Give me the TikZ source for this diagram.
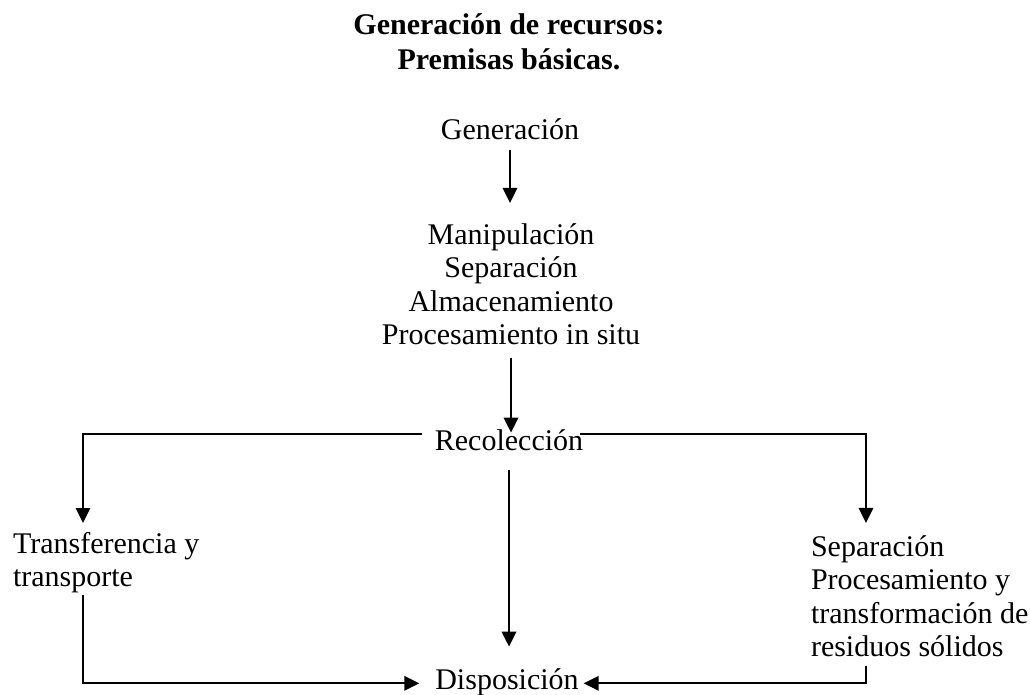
\documentclass[tikz,border=0pt]{standalone}
\usepackage{fontspec}
\setmainfont{Liberation Serif}
\usetikzlibrary{arrows.meta}
\tikzset{
  txt/.style={inner sep=0pt, outer sep=0pt, font=\fontsize{30}{33.5}\selectfont},
  ttl/.style={inner sep=0pt, outer sep=0pt, align=center, font=\fontsize{30}{35}\selectfont\bfseries},
  conn/.style={line width=1.8pt, black},
  arr/.style={conn, -{Triangle[width=14.5pt,length=15pt]}}
}
\begin{document}
\begin{tikzpicture}[x=1pt,y=-1pt]
\useasboundingbox (0,0) rectangle (1030,694);
\node[ttl, anchor=north] (title) at (509,9.9) {\strut Generación de recursos:\\Premisas básicas.};
\node[txt, anchor=base] (gen) at (510,139) {\strut Generación};
\node[txt, align=center, anchor=north] (blk) at (511,220.9) {\strut Manipulación\\Separación\\Almacenamiento\\Procesamiento in situ};
\node[txt, anchor=base] (rec) at (509,450) {\strut Recolección};
\node[txt, align=left, anchor=north west] (trans) at (13,530) {\strut Transferencia y\\transporte};
\node[txt, align=left, anchor=north west] (sep) at (811,532.9) {\strut Separación\\Procesamiento y\\transformación de\\residuos sólidos};
\node[txt, anchor=base] (dis) at (507,689) {\strut Disposición};

\draw[arr, shorten <=1pt, shorten >=18pt] (gen.south) -- (gen.south |- blk.north);
\draw[arr, shorten <=12.5pt, shorten >=-6pt] (blk.south) -- (blk.south |- rec.north);
\draw[arr, shorten <=10pt, shorten >=19pt] (rec.south) -- (rec.south |- dis.north);
\draw[arr, shorten >=7pt] ([xshift=-13pt,yshift=9pt]rec.west) -| ([xshift=70pt]trans.north west);
\draw[arr, shorten >=10pt] ([xshift=-3pt,yshift=9pt]rec.east) -| ([xshift=55pt]sep.north west);
\draw[arr, shorten <=2pt, shorten >=16pt] ([xshift=70pt]trans.south west) |- ([yshift=-1pt]dis.west);
\draw[arr, shorten <=8.5pt, shorten >=5pt] ([xshift=55pt]sep.south west) |- ([yshift=-1pt]dis.east);
\end{tikzpicture}
\end{document}
